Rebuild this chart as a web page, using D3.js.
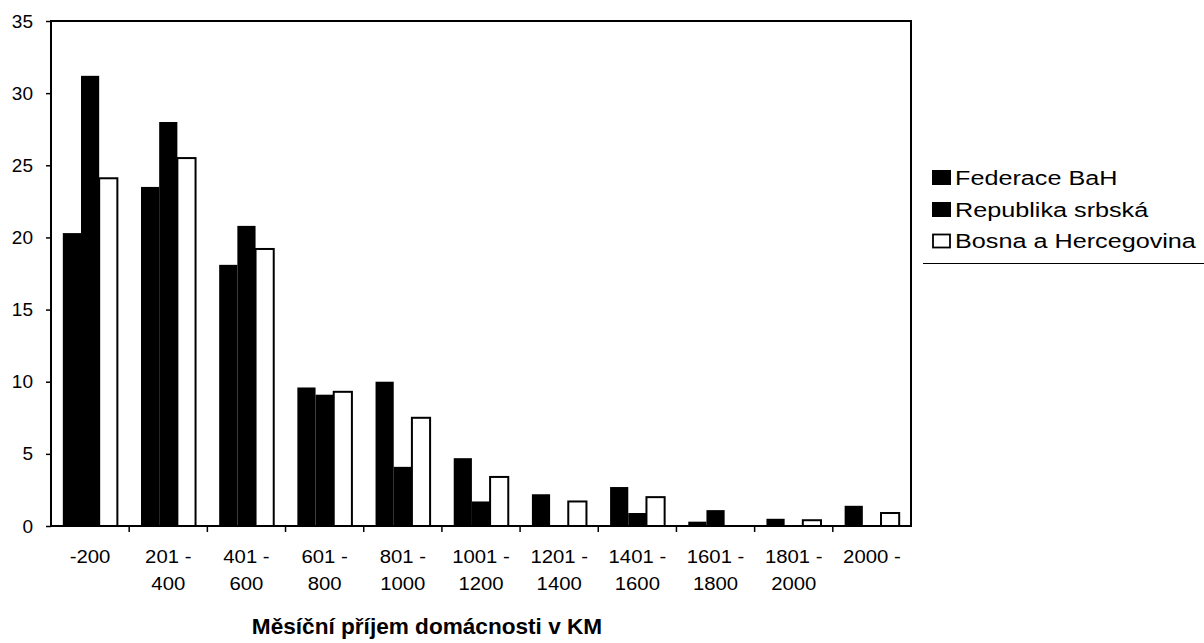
<!DOCTYPE html>
<html>
<head>
<meta charset="utf-8">
<script src="https://cdn.jsdelivr.net/npm/d3@7"></script>
<style>
  html, body { margin: 0; padding: 0; background: #fff; }
  svg { display: block; font-family: 'Liberation Sans', Arial, sans-serif; }
</style>
</head>
<body>
<svg id="chart"></svg>
<script>
const categories = ['-200', '201 - 400', '401 - 600', '601 - 800', '801 - 1000', '1001 - 1200',
  '1201 - 1400', '1401 - 1600', '1601 - 1800', '1801 - 2000', '2000 -'];
const seriesNames = ['Federace BaH', 'Republika srbská', 'Bosna a Hercegovina'];
const federace = [20.3, 23.5, 18.1, 9.6, 10.0, 4.7, 2.2, 2.7, 0.3, 0.5, 1.4];
const republika = [31.2, 28.0, 20.8, 9.1, 4.1, 1.7, 0, 0.9, 1.1, 0, 0];
const bosna = [24.1, 25.5, 19.2, 9.3, 7.5, 3.4, 1.7, 2.0, 0, 0.4, 0.9];
const yTicks = [0, 5, 10, 15, 20, 25, 30, 35];
const xTitle = 'Měsíční příjem domácnosti v KM';

const W = 1204, H = 643;
const plot = { left: 51, top: 21, right: 911, bottom: 526 };
const font = "'Liberation Sans', Arial, sans-serif";

const svg = d3.select('#chart').attr('width', W).attr('height', H);

const seriesValues = [federace, republika, bosna];
const fills = ['#000', '#000', '#fff'];

const x0 = d3.scaleBand().domain(categories).range([plot.left, plot.right]).paddingInner(0).paddingOuter(0);
const x1 = d3.scaleBand().domain(seriesNames).range([0, x0.bandwidth()]).paddingInner(0).paddingOuter(0.65);
const y = d3.scaleLinear().domain([0, 35]).range([plot.bottom, plot.top]);

// bars
const groups = svg.append('g')
  .selectAll('g')
  .data(categories)
  .join('g')
  .attr('transform', (d) => `translate(${x0(d)},0)`);

groups.selectAll('rect')
  .data((c, i) => seriesNames.map((s, k) => ({ s, k, v: seriesValues[k][i] })).filter((d) => d.v > 0))
  .join('rect')
  .attr('x', (d) => x1(d.s))
  .attr('y', (d) => y(d.v))
  .attr('width', x1.bandwidth())
  .attr('height', (d) => y(0) - y(d.v))
  .attr('fill', (d) => fills[d.k])
  .attr('stroke', '#000')
  .attr('stroke-width', (d) => (d.k === 2 ? 2 : 0));

// frame
svg.append('rect')
  .attr('x', plot.left)
  .attr('y', plot.top)
  .attr('width', plot.right - plot.left)
  .attr('height', plot.bottom - plot.top)
  .attr('fill', 'none')
  .attr('stroke', '#000')
  .attr('stroke-width', 2);

// y axis
const yAxis = svg.append('g')
  .attr('transform', `translate(${plot.left},0)`)
  .call(d3.axisLeft(y).tickValues(yTicks).tickSize(5).tickPadding(13).tickFormat(d3.format('d')));
yAxis.select('.domain').remove();
yAxis.selectAll('line').attr('stroke', '#000').attr('stroke-width', 1.5);
yAxis.selectAll('text')
  .attr('font-size', 19)
  .attr('fill', '#000')
  .attr('font-family', font);

// x axis boundary ticks
svg.append('g')
  .selectAll('line')
  .data(categories.slice(1))
  .join('line')
  .attr('x1', (d) => x0(d))
  .attr('x2', (d) => x0(d))
  .attr('y1', plot.bottom)
  .attr('y2', plot.bottom + 6)
  .attr('stroke', '#000')
  .attr('stroke-width', 1.5);

// x labels (slightly wide, as in the scan)
const xLabels = svg.append('g')
  .selectAll('text')
  .data(categories)
  .join('text')
  .attr('transform', (d) => `translate(${x0(d) + x0.bandwidth() / 2},${plot.bottom + 37}) scale(1.07,1)`)
  .attr('text-anchor', 'middle')
  .attr('font-size', 19)
  .attr('fill', '#000');

xLabels.each(function (d) {
  const parts = d.split(' - ');
  const lines = parts.length > 1 && parts[1] !== '' ? [parts[0] + ' -', parts[1]] : [d];
  const t = d3.select(this);
  lines.forEach((l, i) => {
    t.append('tspan')
      .attr('x', 0)
      .attr('dy', i === 0 ? 0 : 27)
      .text(l);
  });
});

// x title
svg.append('text')
  .attr('x', 427)
  .attr('y', 634)
  .attr('text-anchor', 'middle')
  .attr('font-size', 22.6)
  .attr('font-weight', 'bold')
  .attr('fill', '#000')
  .text(xTitle);

// legend
const legend = svg.append('g').attr('transform', 'translate(932,0)');
const rowY = [177.5, 209.5, 241];
const items = legend.selectAll('g')
  .data(seriesNames)
  .join('g')
  .attr('transform', (d, i) => `translate(0,${rowY[i]})`);

items.append('rect')
  .attr('x', (d, i) => (i === 2 ? 1 : 0))
  .attr('y', (d, i) => (i === 2 ? -6.5 : -7.5))
  .attr('width', (d, i) => (i === 2 ? 17 : 19))
  .attr('height', (d, i) => (i === 2 ? 13 : 15))
  .attr('fill', (d, i) => fills[i])
  .attr('stroke', '#000')
  .attr('stroke-width', (d, i) => (i === 2 ? 1.8 : 0));

items.append('text')
  .attr('transform', 'translate(23,0) scale(1.2,1)')
  .attr('dy', '0.35em')
  .attr('font-size', 21)
  .attr('fill', '#000')
  .text((d) => d);

svg.append('line')
  .attr('x1', 923)
  .attr('x2', W)
  .attr('y1', 263.5)
  .attr('y2', 263.5)
  .attr('stroke', '#000')
  .attr('stroke-width', 1);
</script>
</body>
</html>
